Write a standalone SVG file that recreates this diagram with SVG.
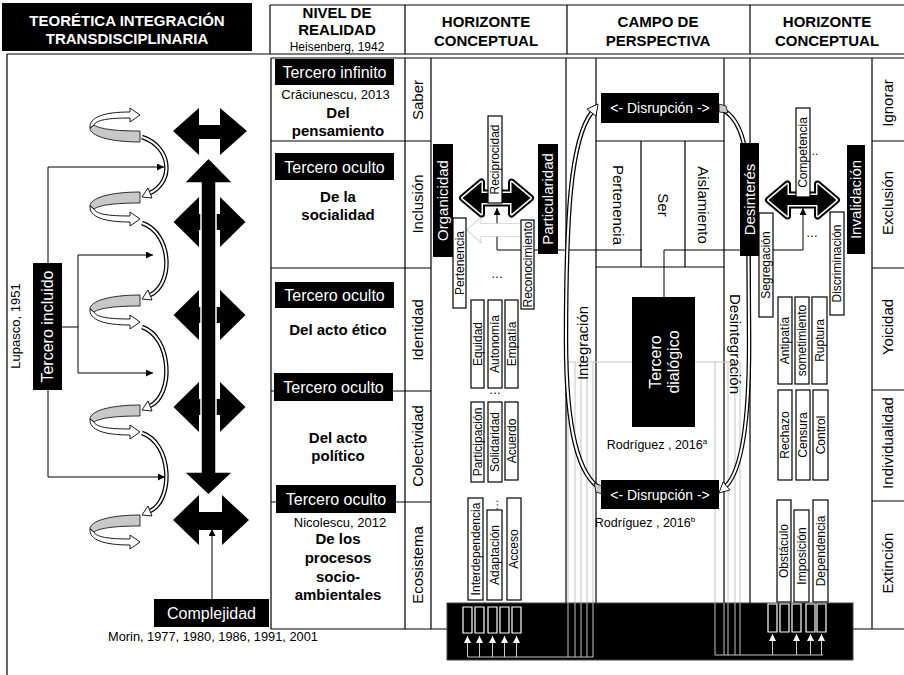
<svg xmlns="http://www.w3.org/2000/svg" width="904" height="675" viewBox="0 0 904 675">
<style>
text{font-family:"Liberation Sans",Arial,sans-serif;fill:#000}
.h{font-size:15px;font-weight:bold;text-anchor:middle}
.m{text-anchor:middle}
.w{fill:#fff}
.b{font-weight:bold}
.f16{font-size:16px}
.f15{font-size:15px}
.f14{font-size:14px}
.f13{font-size:13px}
.f12{font-size:12px}
.bx{fill:#fff;stroke:#000;stroke-width:1.2}
.ln{fill:none;stroke:#000;stroke-width:1.2}
.tl{fill:none;stroke:#000;stroke-width:1}
.gl{fill:none;stroke:#c4c4c4;stroke-width:1}
.a1{fill:none;stroke:#000;stroke-width:4.5}
.a2{fill:none;stroke:#fff;stroke-width:2}
.ah{fill:#fff;stroke:#000;stroke-width:0.9}
.gr{fill:#c8c8c8;stroke:#000;stroke-width:0.8}
.wt{fill:none;stroke:#fff;stroke-width:1.2}
.up{stroke:#ccc;stroke-width:1;fill:none}
</style>
<defs>
<marker id="ar" viewBox="0 0 10 10" refX="10" refY="5" markerWidth="7" markerHeight="7" orient="auto" markerUnits="userSpaceOnUse"><path d="M0,0 L10,5 L0,10 Z" fill="#000"/></marker>
<marker id="aw" viewBox="0 0 10 10" refX="10" refY="5" markerWidth="7" markerHeight="7" orient="auto" markerUnits="userSpaceOnUse"><path d="M0,0 L10,5 L0,10 Z" fill="#fff"/></marker>
<g id="curl">
<path class="gr" d="M140,192 C110,192 90,198 90,206 L94,209 C100,205 115,203 140,203 Z"/>
<path class="ah" d="M94,209 C96,214 108,216 130,216 L130,212 L140,219 L130,226 L130,222 C104,222 89,217 90,206 Z"/>
</g>
<path id="hda" d="M-34,0 L-15,-16 L-15,-5 L15,-5 L15,-16 L34,0 L15,16 L15,5 L-15,5 L-15,16 Z"/>
<path id="cross" d="M-36,0 L-10.5,-25 L-10.5,-8 L10.5,-8 L10.5,-25 L36,0 L10.5,25 L10.5,8 L-10.5,8 L-10.5,25 Z"/>
</defs>

<rect width="904" height="675" fill="#fff"/>

<!-- header -->
<g id="title">
<rect x="2" y="3" width="250" height="48" fill="#000"/>
<text x="127" y="26" class="h w">TEORÉTICA INTEGRACIÓN</text>
<text x="127" y="44" class="h w">TRANSDISCIPLINARIA</text>
</g>
<g id="header">
<path class="ln" d="M270,5 H904 M270,5 V54 M405,5 V54 M567,5 V54 M750,5 V54 M7,54 H904"/>
<text x="337" y="18" class="h">NIVEL DE</text>
<text x="337" y="35" class="h">REALIDAD</text>
<text x="337" y="51" class="m f12">Heisenberg, 1942</text>
<text x="486" y="27" class="h">HORIZONTE</text>
<text x="486" y="46" class="h">CONCEPTUAL</text>
<text x="658" y="27" class="h">CAMPO DE</text>
<text x="658" y="46" class="h">PERSPECTIVA</text>
<text x="827" y="27" class="h">HORIZONTE</text>
<text x="827" y="46" class="h">CONCEPTUAL</text>
</g>

<!-- table grid -->
<g id="grid">
<path class="ln" d="M7,54 V675 M271,58 H904 M271,58 V629 M405,58 V629 M431,58 V629 M566,58 V603 M596,58 V603 M724,58 V603 M750,58 V603 M872,58 V629
M271,141 H431 M271,268 H431 M271,391 H431 M271,502 H431
M872,141 H904 M872,268 H904 M872,390 H904 M872,501 H904
M271,629 H447 M853,629 H904
M596,141 H724 M596,267 H724 M641,141 V267 M685,141 V267"/>
</g>

<!-- connectors -->
<g id="connectors">
<path class="tl" d="M48,263 V167 H164" marker-end="url(#ar)"/>
<path class="tl" d="M62,327 H78 V255 H153" marker-end="url(#ar)"/>
<path class="tl" d="M78,327 V373 H153" marker-end="url(#ar)"/>
<path class="tl" d="M48,390 V477 H165" marker-end="url(#ar)"/>
<path class="tl" d="M212,599 V529" marker-end="url(#ar)"/>
<path class="tl" d="M497,250 V208" marker-end="url(#ar)"/>
<path class="tl" d="M803,250 V208" marker-end="url(#ar)"/>
<path class="tl" d="M497,250 H642 M664,250 H803 M664,250 V297"/>
<path class="gl" d="M632,362 H568 M568,362 V657 M575,362 V657 M581,362 V657 M587,362 V657 M593,362 V657 M468,657 H593"/>
<path class="gl" d="M695,362 H740 M715,362 V655 M728,362 V655 M735,362 V655 M740,362 V655 M715,655 H823"/>
<path d="M468,230 L480,219 L480,224.5 L523,224.5 L523,235.5 L480,235.5 L480,241 Z" fill="#fff" stroke="#cfcfcf" stroke-width="2.5"/>
<path d="M468,230 L480,219 L480,224.5 L523,224.5 L523,235.5 L480,235.5 L480,241 Z" fill="#fff" stroke="#fff" stroke-width="1"/>
<path class="a1" d="M142,137 C172,147 174,182 150,193"/><path class="a2" d="M142,137 C172,147 174,182 150,193"/>
<polygon class="ah" points="142,197 152,198 148,188"/>
<path class="a1" d="M142,223 C172,233 174,284 150,295"/><path class="a2" d="M142,223 C172,233 174,284 150,295"/>
<polygon class="ah" points="142,299 152,300 148,290"/>
<path class="a1" d="M142,327 C172,337 174,395 150,406"/><path class="a2" d="M142,327 C172,337 174,395 150,406"/>
<polygon class="ah" points="142,410 152,411 148,401"/>
<path class="a1" d="M142,433 C172,443 174,500 150,511"/><path class="a2" d="M142,433 C172,443 174,500 150,511"/>
<polygon class="ah" points="142,515 152,516 148,506"/>
<path class="a1" d="M603,490 C578,478 566,430 566,340 C566,220 570,140 592,112"/>
<path class="a2" d="M603,490 C578,478 566,430 566,340 C566,220 570,140 592,112"/>
<polygon class="ah" points="598,104 596,116 587,109"/>
<polygon class="gr" points="594,483 602,486 602,494 596,492"/>
<path class="a1" d="M719,108 C738,115 747,140 748,180 L749,330 C750,420 742,470 726,486"/>
<path class="a2" d="M719,108 C738,115 747,140 748,180 L749,330 C750,420 742,470 726,486"/>
<polygon class="ah" points="719,493 730,490 723,482"/>
<polygon class="gr" points="719,104 726,106 728,113 719,112"/>
</g>

<!-- left spirals -->
<g id="spirals">
<use href="#curl" transform="matrix(1 0 0 -1 0 334)"/>
<use href="#curl"/>
<use href="#curl" transform="translate(0,103)"/>
<use href="#curl" transform="translate(0,213)"/>
<use href="#curl" transform="translate(0,323)"/>
</g>

<!-- black thick arrows -->
<g id="axis">
<polygon points="173,131 199,108 199,125 220,125 220,108 247,131 220,155 220,139 199,139 199,155" fill="#000"/>
<use href="#cross" transform="translate(209.5,222)" fill="#000"/>
<use href="#cross" transform="translate(209.5,315)" fill="#000"/>
<use href="#cross" transform="translate(209.5,407)" fill="#000"/>
<polygon points="208.5,158 233,183 216,183 216,472 233,472 208.5,495 184,472 201,472 201,183 184,183" fill="#000" stroke="#fff" stroke-width="1.5"/>
<polygon points="173,520 199,495 199,512 222,512 222,495 249,520 222,545 222,530 199,530 199,545" fill="#000"/>
</g>

<g id="lupasco">
<text transform="translate(15,326) rotate(-90)" class="m f13" dy=".35em">Lupasco, 1951</text>
</g>
<g id="tercero-incluido">
<rect x="33" y="263" width="29" height="127" fill="#000"/>
<text transform="translate(47.5,326.5) rotate(-90)" class="m f16 w" dy=".35em">Tercero incluido</text>
</g>
<g id="complejidad">
<rect x="154" y="599" width="115" height="28" fill="#000"/>
<text x="211.5" y="619" class="m f16 w">Complejidad</text>
<text x="108" y="641" style="font-size:12.8px">Morin, 1977, 1980, 1986, 1991, 2001</text>
</g>

<!-- nivel de realidad -->
<g id="nivel-saber">
<rect x="275" y="59" width="119" height="26" fill="#000"/>
<text x="334.5" y="77.5" class="m f16 w">Tercero infinito</text>
<text x="335.5" y="99" class="m f13">Crăciunescu, 2013</text>
<text x="338" y="118" class="m f15 b">Del</text>
<text x="338" y="136" class="m f15 b">pensamiento</text>
</g>
<g id="nivel-inclusion">
<rect x="275" y="153" width="119" height="27" fill="#000"/>
<text x="334.5" y="172.5" class="m f16 w">Tercero oculto</text>
<text x="338" y="202" class="m f15 b">De la</text>
<text x="338" y="220" class="m f15 b">socialidad</text>
</g>
<g id="nivel-identidad">
<rect x="275" y="282" width="119" height="26" fill="#000"/>
<text x="334.5" y="300.5" class="m f16 w">Tercero oculto</text>
<text x="338" y="335" class="m f15 b">Del acto ético</text>
</g>
<g id="nivel-colectividad">
<rect x="274" y="373" width="119" height="28" fill="#000"/>
<text x="333.5" y="392.5" class="m f16 w">Tercero oculto</text>
<text x="338" y="443" class="m f15 b">Del acto</text>
<text x="338" y="461" class="m f15 b">político</text>
</g>
<g id="nivel-ecosistema">
<rect x="276" y="485" width="120" height="28" fill="#000"/>
<text x="336" y="504.5" class="m f16 w">Tercero oculto</text>
<text x="340" y="527" class="m f13">Nicolescu, 2012</text>
<text x="338" y="544" class="m f15 b">De los</text>
<text x="338" y="563" class="m f15 b">procesos</text>
<text x="338" y="582" class="m f15 b">socio-</text>
<text x="338" y="600" class="m f15 b">ambientales</text>
</g>

<!-- label columns -->
<g id="labels-left">
<text transform="translate(418,100) rotate(-90)" class="m f15" dy=".35em">Saber</text>
<text transform="translate(418,204) rotate(-90)" class="m f15" dy=".35em">Inclusión</text>
<text transform="translate(418,330) rotate(-90)" class="m f15" dy=".35em">Identidad</text>
<text transform="translate(418,446) rotate(-90)" class="m f15" dy=".35em">Colectividad</text>
<text transform="translate(418,565) rotate(-90)" class="m f15" dy=".35em">Ecosistema</text>
</g>
<g id="labels-right">
<text transform="translate(888,103) rotate(-90)" class="m f15" dy=".35em">Ignorar</text>
<text transform="translate(888,203) rotate(-90)" class="m f15" dy=".35em">Exclusión</text>
<text transform="translate(888,327) rotate(-90)" class="m f15" dy=".35em">Yoicidad</text>
<text transform="translate(888,443) rotate(-90)" class="m f15" dy=".35em">Individualidad</text>
<text transform="translate(888,563) rotate(-90)" class="m f15" dy=".35em">Extinción</text>
</g>

<!-- left horizonte -->
<g id="organicidad">
<rect x="433" y="144" width="20" height="113" fill="#000"/>
<text transform="translate(443,200.5) rotate(-90)" class="m f15 w" dy=".35em">Organicidad</text>
</g>
<g id="particularidad">
<rect x="538" y="144" width="20" height="110" fill="#000"/>
<text transform="translate(548,199) rotate(-90)" class="m f15 w" dy=".35em">Particularidad</text>
</g>
<g id="arrow-left">
<use href="#hda" transform="translate(496.5,198)" fill="none" stroke="#000" stroke-width="7" stroke-linejoin="round"/>
<use href="#hda" transform="translate(496.5,198)" fill="none" stroke="#fff" stroke-width="3" stroke-linejoin="round"/>
<use href="#hda" transform="translate(496.5,198)" fill="#000"/>
</g>
<g id="reciprocidad"><rect class="bx" x="488" y="116" width="14" height="87"/><text transform="translate(495,159.5) rotate(-90)" class="m f12" dy=".35em">Reciprocidad</text></g>
<g id="pertenencia-l"><rect class="bx" x="453" y="218" width="13" height="90"/><text transform="translate(459.5,263) rotate(-90)" class="m f12" dy=".35em">Pertenencia</text></g>
<g id="reconocimiento"><rect class="bx" x="521" y="220" width="13" height="89"/><text transform="translate(527.5,264.5) rotate(-90)" class="m f12" dy=".35em">Reconocimiento</text></g>
<text x="497" y="278" class="m f12" fill="#333">…</text>
<g id="equidad"><rect class="bx" x="471" y="300" width="13" height="88"/><text transform="translate(477.5,344) rotate(-90)" class="m f12" dy=".35em">Equidad</text></g>
<g id="autonomia"><rect class="bx" x="488" y="300" width="14" height="88"/><text transform="translate(495,344) rotate(-90)" class="m f12" dy=".35em">Autonomía</text></g>
<g id="empatia"><rect class="bx" x="505" y="300" width="13" height="88"/><text transform="translate(511.5,344) rotate(-90)" class="m f12" dy=".35em">Empatía</text></g>
<text x="495" y="394" class="m f12" fill="#bbb">…</text>
<g id="participacion"><rect class="bx" x="471" y="402" width="13" height="80"/><text transform="translate(477.5,442) rotate(-90)" class="m f12" dy=".35em">Participación</text></g>
<g id="solidaridad"><rect class="bx" x="488" y="402" width="14" height="80"/><text transform="translate(495,442) rotate(-90)" class="m f12" dy=".35em">Solidaridad</text></g>
<g id="acuerdo"><rect class="bx" x="505" y="402" width="13" height="78"/><text transform="translate(511.5,441) rotate(-90)" class="m f12" dy=".35em">Acuerdo</text></g>
<text transform="translate(494,505) rotate(-90)" class="m f12" dy=".35em" fill="#333">…</text>
<g id="interdependencia"><rect class="bx" x="468" y="498" width="15" height="102"/><text transform="translate(475.5,549) rotate(-90)" class="m f12" dy=".35em">Interdependencia</text></g>
<g id="adaptacion"><rect class="bx" x="487" y="510" width="15" height="90"/><text transform="translate(494.5,555) rotate(-90)" class="m f12" dy=".35em">Adaptación</text></g>
<g id="acceso"><rect class="bx" x="507" y="498" width="14" height="102"/><text transform="translate(514,549) rotate(-90)" class="m f12" dy=".35em">Acceso</text></g>

<!-- campo de perspectiva -->
<g id="disrupcion-top">
<rect x="601" y="93" width="118" height="30" fill="#000"/>
<text x="660" y="113" class="m f14 w">&lt;- Disrupción -&gt;</text>
</g>
<g id="triada">
<text transform="translate(618,205) rotate(90)" class="m f15" dy=".35em">Pertenencia</text>
<text transform="translate(663,205) rotate(90)" class="m f15" dy=".35em">Ser</text>
<text transform="translate(703,205) rotate(90)" class="m f15" dy=".35em">Aislamiento</text>
</g>
<g id="integracion"><text transform="translate(583,343) rotate(-90)" class="m f15" dy=".35em">Integración</text></g>
<g id="desintegracion"><text transform="translate(735,344) rotate(90)" class="m f15" dy=".35em">Desintegración</text></g>
<g id="tercero-dialogico">
<rect x="632" y="297" width="63" height="130" fill="#000"/>
<text transform="translate(655,362) rotate(-90)" class="m f16 w" dy=".35em">Tercero</text>
<text transform="translate(673,362) rotate(-90)" class="m f16 w" dy=".35em">dialógico</text>
</g>
<text x="657" y="449" class="m" style="font-size:12.5px">Rodríguez , 2016<tspan font-size="8" dy="-5">a</tspan></text>
<g id="disrupcion-bottom">
<rect x="601" y="480" width="118" height="29" fill="#000"/>
<text x="660" y="500" class="m f14 w">&lt;- Disrupción -&gt;</text>
</g>
<text x="645" y="527" class="m" style="font-size:12.5px">Rodríguez , 2016<tspan font-size="8" dy="-5">b</tspan></text>

<!-- right horizonte -->
<g id="desinteres">
<rect x="740" y="143" width="19" height="113" fill="#000"/>
<text transform="translate(749.5,199.5) rotate(-90)" class="m f15 w" dy=".35em">Desinterés</text>
</g>
<g id="invalidacion">
<rect x="847" y="145" width="18" height="109" fill="#000"/>
<text transform="translate(856,199.5) rotate(-90)" class="m f15 w" dy=".35em">Invalidación</text>
</g>
<g id="arrow-right">
<use href="#hda" transform="translate(802.5,200)" fill="none" stroke="#000" stroke-width="7" stroke-linejoin="round"/>
<use href="#hda" transform="translate(802.5,200)" fill="none" stroke="#fff" stroke-width="3" stroke-linejoin="round"/>
<use href="#hda" transform="translate(802.5,200)" fill="#000"/>
</g>
<g id="competencia"><rect class="bx" x="796" y="108" width="14" height="89"/><text transform="translate(803,152.5) rotate(-90)" class="m f12" dy=".35em">Competencia</text></g>
<text x="815" y="155" class="m f12" fill="#555">..</text>
<text x="812" y="237" class="m f12" fill="#555">…</text>
<g id="segregacion"><rect class="bx" x="759" y="213" width="14" height="104"/><text transform="translate(766,265) rotate(-90)" class="m f12" dy=".35em">Segregación</text></g>
<g id="discriminacion"><rect class="bx" x="830" y="212" width="14" height="103"/><text transform="translate(837,263.5) rotate(-90)" class="m f12" dy=".35em">Discriminación</text></g>
<g id="antipatia"><rect class="bx" x="778" y="297" width="14" height="87"/><text transform="translate(785,340.5) rotate(-90)" class="m f12" dy=".35em">Antipatía</text></g>
<g id="sometimiento"><rect class="bx" x="795" y="297" width="14" height="87"/><text transform="translate(802,340.5) rotate(-90)" class="m f12" dy=".35em">sometimiento</text></g>
<g id="ruptura"><rect class="bx" x="812" y="297" width="15" height="87"/><text transform="translate(819.5,340.5) rotate(-90)" class="m f12" dy=".35em">Ruptura</text></g>
<g id="rechazo"><rect class="bx" x="778" y="390" width="14" height="90"/><text transform="translate(785,435) rotate(-90)" class="m f12" dy=".35em">Rechazo</text></g>
<g id="censura"><rect class="bx" x="796" y="390" width="14" height="90"/><text transform="translate(803,435) rotate(-90)" class="m f12" dy=".35em">Censura</text></g>
<g id="control"><rect class="bx" x="813" y="390" width="15" height="90"/><text transform="translate(820.5,435) rotate(-90)" class="m f12" dy=".35em">Control</text></g>
<g id="obstaculo"><rect class="bx" x="777" y="500" width="14" height="102"/><text transform="translate(784,551) rotate(-90)" class="m f12" dy=".35em">Obstáculo</text></g>
<g id="imposicion"><rect class="bx" x="794" y="510" width="15" height="92"/><text transform="translate(801.5,556) rotate(-90)" class="m f12" dy=".35em">Imposición</text></g>
<g id="dependencia"><rect class="bx" x="813" y="500" width="15" height="102"/><text transform="translate(820.5,551) rotate(-90)" class="m f12" dy=".35em">Dependencia</text></g>

<!-- bottom bar -->
<g id="bar">
<rect x="447" y="603" width="406" height="57" fill="#000" stroke="#444" stroke-width="1"/>
<path class="gl" d="M568,603 V657 M575,603 V657 M581,603 V657 M587,603 V657 M593,603 V657 M468,657 H593 M715,603 V655 M724,603 V655 M728,603 V655 M735,603 V655 M740,603 V655 M715,655 H823"/>
<path class="wt" d="M463,607 h9 v26 h-9 Z M475,607 h9 v26 h-9 Z M488,607 h9 v26 h-9 Z M500,607 h9 v26 h-9 Z M512,607 h9 v26 h-9 Z"/>
<path class="wt" d="M768,604 h9 v28 h-9 Z M780,604 h9 v28 h-9 Z M792,604 h9 v28 h-9 Z M806,604 h9 v28 h-9 Z M817,604 h9 v28 h-9 Z"/>
<path class="up" d="M467.5,657 V636" marker-end="url(#aw)"/>
<path class="up" d="M479.5,657 V636" marker-end="url(#aw)"/>
<path class="up" d="M492.5,657 V636" marker-end="url(#aw)"/>
<path class="up" d="M504.5,657 V636" marker-end="url(#aw)"/>
<path class="up" d="M516.5,657 V636" marker-end="url(#aw)"/>
<path class="up" d="M772.5,655 V634" marker-end="url(#aw)"/>
<path class="up" d="M796.5,655 V634" marker-end="url(#aw)"/>
<path class="up" d="M810.5,655 V634" marker-end="url(#aw)"/>
<path class="up" d="M821.5,655 V634" marker-end="url(#aw)"/>
</g>
</svg>
